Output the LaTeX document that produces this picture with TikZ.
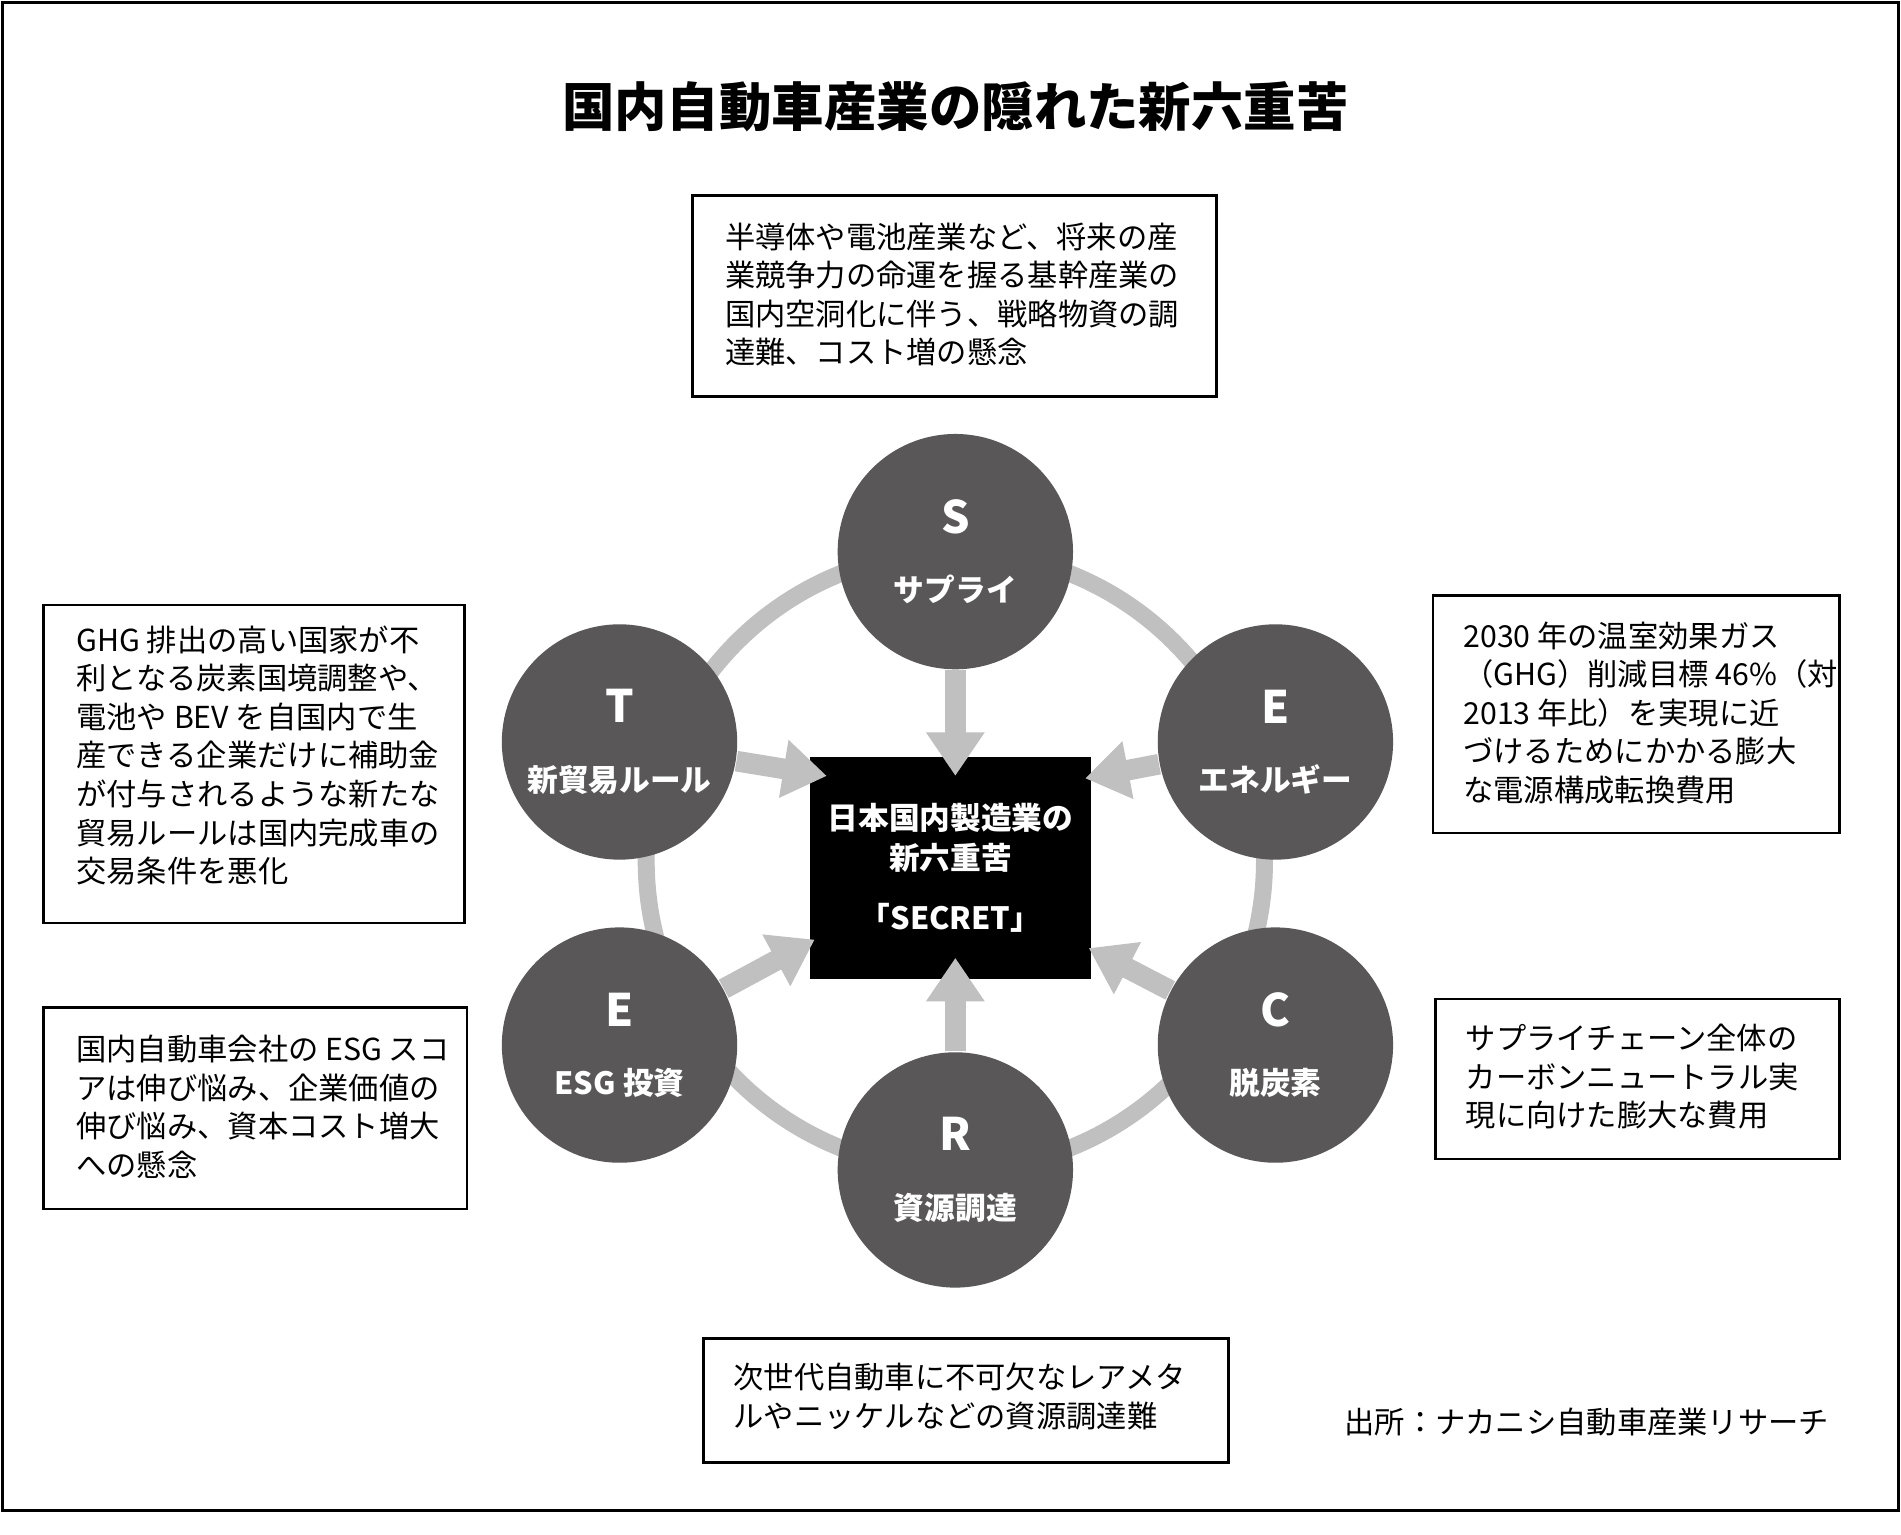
\documentclass[tikz,border=0pt]{standalone}
\usepackage{fontspec}
\setmainfont{Noto Sans CJK JP}
\usetikzlibrary{arrows.meta}
\definecolor{circgray}{RGB}{89,87,88}
\definecolor{ringgray}{RGB}{192,192,192}
\tikzset{
  issue/.style={circle, fill=circgray, minimum size=1.94cm, inner sep=0pt, text=white, align=center, font=\bfseries\fontsize{7.2pt}{9pt}\selectfont},
  notebox/.style={draw=black, line width=0.6pt, anchor=north west, align=left, inner sep=0pt, font=\fontsize{7.1pt}{9.05pt}\selectfont},
  garrow/.style={draw=ringgray, line width=0.17cm, -{Triangle[length=3.6mm 0 0, width=4.6mm 0 0]}},
}
\newcommand{\issuetext}[2]{{\fontsize{10.5pt}{12pt}\selectfont #1}\\[7pt]#2}
\begin{document}
\begin{tikzpicture}[x=0.01cm, y=-0.01cm]
\useasboundingbox (0,0) rectangle (1568,1266);
\fill[white] (0,0) rectangle (1568,1266);
\draw[line width=0.6pt] (2,2) rectangle (1566,1246);
\node (title) at (788,88) {\bfseries\fontsize{12.3pt}{14pt}\selectfont 国内自動車産業の隠れた新六重苦};
% ring
\draw[ringgray, line width=0.14cm] (788,710) circle (255);
% centre
\node (core) [fill=black, minimum width=2.32cm, minimum height=1.83cm, text=white, align=center, font=\bfseries\fontsize{7.2pt}{9.2pt}\selectfont] at (784,716) {日本国内製造業の\\新六重苦\\[5pt]「SECRET」};
% issues
\node (cS) [issue] at (788,455) {\issuetext{S}{サプライ}};
\node (cE) [issue] at (1052,612) {\issuetext{E}{エネルギー}};
\node (cC) [issue] at (1052,862) {\issuetext{C}{脱炭素}};
\node (cR) [issue] at (788,965) {\issuetext{R}{資源調達}};
\node (cG) [issue] at (511,862) {\issuetext{E}{ESG 投資}};
\node (cT) [issue] at (511,612) {\issuetext{T}{新貿易ルール}};
% arrow tips
\coordinate (tS) at (788,640);
\coordinate (tE) at (895,642);
\coordinate (tC) at (898,782);
\coordinate (tR) at (788,790);
\coordinate (tG) at (672,775);
\coordinate (tT) at (682,640);
\foreach \c in {S,E,C,R,G,T}
  \draw[garrow] (c\c) -- (t\c);
% notes
\node (nS) [notebox, minimum width=4.32cm, minimum height=1.66cm] at (570,160) {};
\node [notebox, draw=none, anchor=west] at (597,243) {半導体や電池産業など、将来の産\\業競争力の命運を握る基幹産業の\\国内空洞化に伴う、戦略物資の調\\達難、コスト増の懸念};
\node (nT) [notebox, minimum width=3.47cm, minimum height=2.62cm] at (35,498) {};
\node [notebox, draw=none, anchor=west] at (62,623) {GHG 排出の高い国家が不\\利となる炭素国境調整や、\\電池や BEV を自国内で生\\産できる企業だけに補助金\\が付与されるような新たな\\貿易ルールは国内完成車の\\交易条件を悪化};
\node (nE) [notebox, minimum width=3.35cm, minimum height=1.96cm] at (1181,490) {};
\node [notebox, draw=none, anchor=west] at (1206,588) {2030 年の温室効果ガス\\（GHG）削減目標 46\%（対\\2013 年比）を実現に近\\づけるためにかかる膨大\\な電源構成転換費用};
\node (nG) [notebox, minimum width=3.49cm, minimum height=1.66cm] at (35,830) {};
\node [notebox, draw=none, anchor=west] at (62,913) {国内自動車会社の ESG スコ\\アは伸び悩み、企業価値の\\伸び悩み、資本コスト増大\\への懸念};
\node (nC) [notebox, minimum width=3.33cm, minimum height=1.32cm] at (1183,823) {};
\node [notebox, draw=none, anchor=west] at (1208,888) {サプライチェーン全体の\\カーボンニュートラル実\\現に向けた膨大な費用};
\node (nR) [notebox, minimum width=4.33cm, minimum height=1.02cm] at (579,1103) {};
\node [notebox, draw=none, anchor=west] at (604,1152) {次世代自動車に不可欠なレアメタ\\ルやニッケルなどの資源調達難};
\node (src) [anchor=east, font=\fontsize{7.1pt}{9pt}\selectfont] at (1521,1173) {出所：ナカニシ自動車産業リサーチ};
\end{tikzpicture}
\end{document}
